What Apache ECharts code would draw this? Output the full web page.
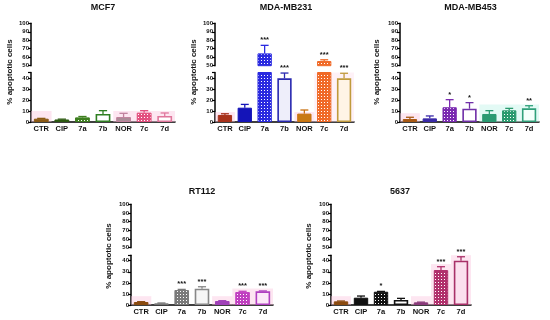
<!DOCTYPE html>
<html><head><meta charset="utf-8">
<script src="https://cdn.jsdelivr.net/npm/echarts@6/dist/echarts.min.js"></script>
<style>html,body{margin:0;padding:0;background:#fff}#c{width:550px;height:320px}</style>
</head><body><div id="c"></div>
<script>
// ---------- DATA ----------
const categories = ['CTR', 'CIP', '7a', '7b', 'NOR', '7c', '7d'];
const barKinds = ['solid', 'solid', 'check', 'open', 'solid', 'check', 'open'];
const upperTicks = [50, 60, 70, 80, 90, 100];
const lowerTicks = [0, 10, 20, 30, 40];
const lowerAxisMax = 45;
const yAxisTitle = '% apoptotic cells';

const panelTitles = ['MCF7', 'MDA-MB231', 'MDA-MB453', 'RT112', '5637'];

const mcf7Values = [3, 2.3, 4.2, 7.3, 4.5, 8.5, 5.5];
const mcf7Errors = [0.3, 0.3, 0.8, 3, 3.4, 1.8, 2.7];
const mcf7Stars  = ['', '', '', '', '', '', ''];

const mb231Values = [6.4, 13, 64.5, 39.7, 7.6, 55.5, 39.7];
const mb231Errors = [1.1, 3, 9.5, 4.8, 3.3, 1.5, 4.6];
const mb231Stars  = ['', '', '***', '***', '', '***', '***'];

const mb453Values = [2.7, 3.3, 13.4, 12.1, 7.3, 10.6, 12.4];
const mb453Errors = [1.6, 2.2, 6.9, 5.5, 3, 1.8, 2.4];
const mb453Stars  = ['', '', '*', '*', '', '', '**'];

const rt112Values = [2.7, 1.5, 13.5, 14.7, 3.6, 11.7, 12.4];
const rt112Errors = [0.3, 0.3, 0.6, 1.8, 0.3, 0.7, 0.3];
const rt112Stars  = ['', '', '***', '***', '', '***', '***'];

const c5637Values = [3.3, 6.6, 12, 4.5, 2.4, 31.6, 40];
const c5637Errors = [0.3, 1.5, 0.3, 1.5, 0.2, 3, 3.6];
const c5637Stars  = ['', '', '*', '', '', '***', '***'];

// ---------- STYLES ----------
const FONT = '"Liberation Sans", Arial, sans-serif';
const PINK = 'rgba(250,200,225,0.45)';
const styles = [
  { colors: ['#8b5a14','#2d5a12','#3d7f1f','#2f7f22','#c0809c','#e2507f','#e0769c'],
    fills:  ['#8b5a14','#2d5a12',null,'#ffffff','#ac8c98',null,'#ffffff'],
    hl: [[0,0,10,PINK],[4,6,10,PINK]] },
  { colors: ['#a8321c','#1414b8','#2a2ae0','#2828b0','#c8700e','#f06a28','#c09a3c'],
    fills:  ['#a8321c','#1414b8',null,'#eeeefa','#c87a14',null,'#fff4e6'],
    hl: [[0,0,9,PINK],[4,4,9,PINK],[5,6,45,'rgba(252,225,238,0.45)']] },
  { colors: ['#a85a14','#3a2aa8','#7a2ab0','#7030a8','#2a9a72','#2a9a6e','#30a07a'],
    fills:  ['#a85a14','#3a2aa8',null,'#ffffff','#2a9a72',null,'#f4fffb'],
    hl: [[0,0,8,PINK],[4,6,16,'rgba(200,245,235,0.5)']] },
  { colors: ['#8a4a10','#777777','#7a7a7a','#888888','#a040b8','#c040c0','#b040c0'],
    fills:  ['#8a4a10','#808080',null,'#f6f6f6','#a040b8',null,'#fde8f8'],
    hl: [[0,0,8,PINK],[4,4,8,PINK],[5,6,15,PINK]] },
  { colors: ['#8a4a10','#111111','#111111','#111111','#8a3a7a','#b0306c','#a83068'],
    fills:  ['#8a4a10','#111111',null,'#ffffff','#8a3a7a',null,'#fbe0ee'],
    hl: [[0,0,8,PINK],[4,4,8,PINK],[5,5,37,PINK],[6,6,45,PINK]] }
];
const layouts = [
  { left: 31,  width: 144, upTop: 23.3,  upH: 42.4, lowTop: 72.5,  lowH: 49.5, tx: 103,   ty: 8,   nx: 10,    ny: 72 },
  { left: 215, width: 139, upTop: 23.3,  upH: 42.4, lowTop: 72.5,  lowH: 49.5, tx: 286,   ty: 8,   nx: 193.5, ny: 72 },
  { left: 400, width: 139, upTop: 23.3,  upH: 42.4, lowTop: 72.5,  lowH: 49.5, tx: 470.5, ty: 8,   nx: 377,   ny: 72 },
  { left: 131, width: 142, upTop: 204.3, upH: 43.4, lowTop: 255.2, lowH: 49.8, tx: 202,   ty: 192, nx: 108.5, ny: 256 },
  { left: 331, width: 140, upTop: 204.3, upH: 43.4, lowTop: 255.2, lowH: 49.8, tx: 400,   ty: 192, nx: 308.5, ny: 256 }
];
const panelData = [
  [mcf7Values, mcf7Errors, mcf7Stars],
  [mb231Values, mb231Errors, mb231Stars],
  [mb453Values, mb453Errors, mb453Stars],
  [rt112Values, rt112Errors, rt112Stars],
  [c5637Values, c5637Errors, c5637Stars]
];

function checker(color) {
  const c = document.createElement('canvas');
  c.width = 3; c.height = 3;
  const g = c.getContext('2d');
  g.fillStyle = color; g.fillRect(0, 0, 3, 3);
  g.fillStyle = '#ffffff'; g.fillRect(0, 0, 1, 1);
  return { image: c, repeat: 'repeat' };
}

const axisLine = { show: true, lineStyle: { color: '#000', width: 1.5 } };
const option = { animation: false, backgroundColor: '#fff', grid: [], xAxis: [], yAxis: [], series: [], graphic: [] };

panelTitles.forEach((title, k) => {
  const L = layouts[k], S = styles[k];
  const [values, errors, stars] = panelData[k];
  const gU = 2 * k, gL = 2 * k + 1;
  option.grid.push({ left: L.left, width: L.width, top: L.upTop, height: L.upH });
  option.grid.push({ left: L.left, width: L.width, top: L.lowTop, height: L.lowH });
  option.xAxis.push({ gridIndex: gU, type: 'category', data: categories, show: false });
  option.xAxis.push({ gridIndex: gL, type: 'category', data: categories,
    axisLine: axisLine, axisTick: { show: false },
    axisLabel: { interval: 0, margin: 3, fontSize: 7.5, fontWeight: 'bold', color: '#111', fontFamily: FONT } });
  const yCommon = { type: 'value', axisLine: axisLine,
    axisTick: { show: true, length: 3, lineStyle: { color: '#000', width: 1.2 } },
    splitLine: { show: false } };
  option.yAxis.push(Object.assign({}, yCommon, { gridIndex: gU,
    min: upperTicks[0], max: upperTicks[upperTicks.length - 1], interval: upperTicks[1] - upperTicks[0],
    axisLabel: { fontSize: 6, fontWeight: 'bold', color: '#111', margin: 2, fontFamily: FONT,
      formatter: v => upperTicks.includes(v) ? String(v) : '' } }));
  option.yAxis.push(Object.assign({}, yCommon, { gridIndex: gL,
    min: lowerTicks[0], max: lowerAxisMax, interval: lowerTicks[1] - lowerTicks[0],
    axisLabel: { fontSize: 6, fontWeight: 'bold', color: '#111', margin: 2, fontFamily: FONT,
      formatter: v => lowerTicks.includes(v) ? String(v) : '' } }));

  // highlight boxes
  option.series.push({ type: 'custom', xAxisIndex: gL, yAxisIndex: gL, z: 1, silent: true,
    data: S.hl.map(h => [h[0], h[1], h[2]]),
    renderItem: (params, api) => {
      const a = api.value(0), b = api.value(1), h = api.value(2);
      const band = api.size([1, 0])[0];
      const p0 = api.coord([a, 0]), p1 = api.coord([b, h]);
      return { type: 'rect', shape: { x: p0[0] - band / 2, y: p1[1], width: p1[0] - p0[0] + band, height: p0[1] - p1[1] },
        style: { fill: S.hl[params.dataIndex][3] } };
    } });

  const item = (v, i) => {
    const kind = barKinds[i];
    const fill = kind === 'check' ? checker(S.colors[i]) : S.fills[i];
    return { value: v, itemStyle: { color: fill, borderColor: S.colors[i], borderWidth: kind === 'open' ? 1.6 : 1 } };
  };
  option.series.push({ type: 'bar', xAxisIndex: gL, yAxisIndex: gL, barWidth: '72%', clip: true, z: 2,
    data: values.map(item) });
  option.series.push({ type: 'bar', xAxisIndex: gU, yAxisIndex: gU, barWidth: '72%', clip: true, z: 2,
    data: values.map((v, i) => v >= upperTicks[0] ? item(v, i) : '-') });

  const errRender = (params, api) => {
    const idx = api.value(0), v = api.value(1), t = api.value(2);
    const base = api.coord([idx, v]), tip = api.coord([idx, t]);
    const band = api.size([1, 0])[0];
    const half = band * 0.2;
    const color = S.colors[idx];
    const children = [
      { type: 'line', shape: { x1: base[0], y1: base[1], x2: tip[0], y2: tip[1] }, style: { stroke: color, lineWidth: 1.3 } },
      { type: 'line', shape: { x1: tip[0] - half, y1: tip[1], x2: tip[0] + half, y2: tip[1] }, style: { stroke: color, lineWidth: 1.3 } }
    ];
    const s = stars[idx];
    if (s) children.push({ type: 'text', style: { text: s, x: tip[0], y: tip[1] - 1,
      align: 'center', verticalAlign: 'bottom', textAlign: 'center', textVerticalAlign: 'bottom',
      font: 'bold 7.5px ' + FONT, fill: '#111' } });
    return { type: 'group', children: children };
  };
  const lowErr = [], upErr = [];
  values.forEach((v, i) => {
    if (v < lowerAxisMax) lowErr.push([i, v, v + errors[i]]);
    else if (v >= upperTicks[0]) upErr.push([i, v, v + errors[i]]);
  });
  option.series.push({ type: 'custom', xAxisIndex: gL, yAxisIndex: gL, z: 3, silent: true, data: lowErr, renderItem: errRender });
  option.series.push({ type: 'custom', xAxisIndex: gU, yAxisIndex: gU, z: 3, silent: true, data: upErr, renderItem: errRender });

  option.graphic.push({ type: 'text', x: L.tx, y: L.ty, style: { text: title, font: 'bold 9px ' + FONT, fill: '#111',
    align: 'center', verticalAlign: 'middle', textAlign: 'center', textVerticalAlign: 'middle' } });
  option.graphic.push({ type: 'text', x: L.nx, y: L.ny, rotation: Math.PI / 2, style: { text: yAxisTitle, font: 'bold 8px ' + FONT, fill: '#111',
    align: 'center', verticalAlign: 'middle', textAlign: 'center', textVerticalAlign: 'middle' } });
});

const chart = echarts.init(document.getElementById('c'), null, { renderer: 'canvas' });
chart.setOption(option);
</script>
</body></html>
